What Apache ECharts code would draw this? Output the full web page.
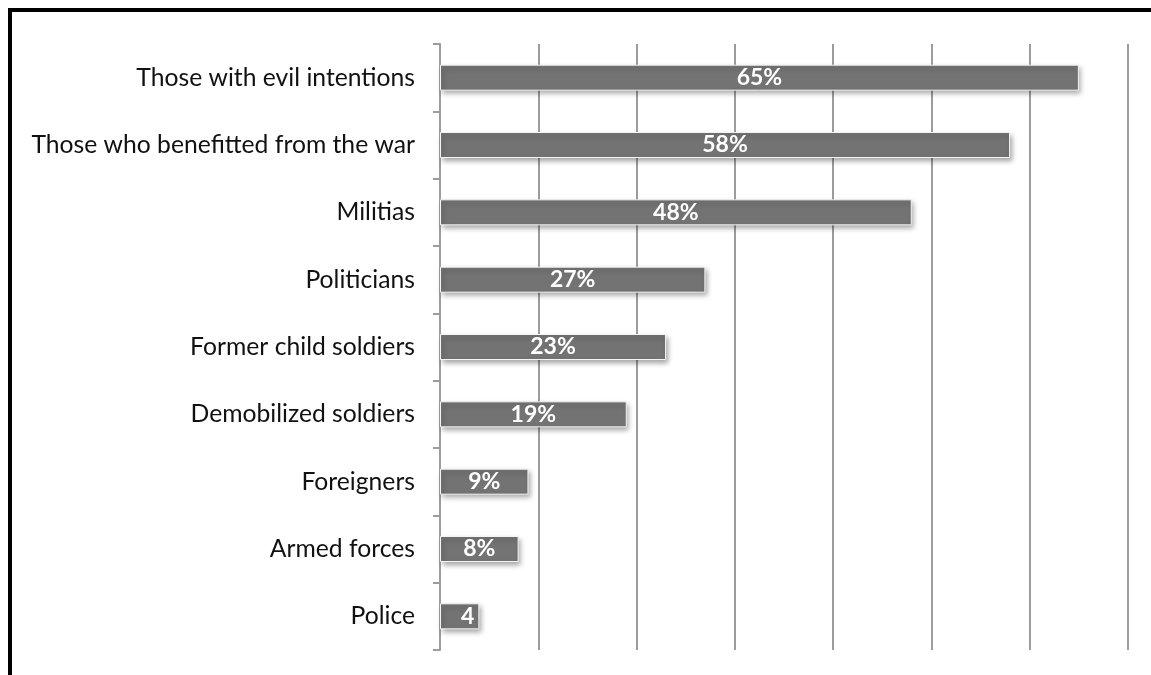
<!DOCTYPE html>
<html>
<head>
<meta charset="utf-8">
<script src="https://cdn.jsdelivr.net/npm/echarts@6/dist/echarts.min.js"></script>
<style>
  html, body { margin: 0; padding: 0; background: #fff; }
  #chart { width: 1151px; height: 675px; }
</style>
</head>
<body>
<div id="chart"></div>
<script>
// Who is seen as responsible (share of respondents, %)
const categories = [
  'Those with evil intentions',
  'Those who benefitted from the war',
  'Militias',
  'Politicians',
  'Former child soldiers',
  'Demobilized soldiers',
  'Foreigners',
  'Armed forces',
  'Police'
];
const values = [65, 58, 48, 27, 23, 19, 9, 8, 4];
const axisMax = 70;
const axisStep = 10;

const chart = echarts.init(document.getElementById('chart'), null, { renderer: 'canvas' });

const barData = values.map(function (v) {
  const item = { value: v };
  if (v < 5) {
    // the narrow bar cannot hold its label; show what fits
    item.label = {
      position: 'insideLeft',
      offset: [16, 0],
      width: 18,
      overflow: 'truncate',
      ellipsis: ''
    };
  }
  return item;
});

chart.setOption({
  animation: false,
  backgroundColor: '#ffffff',
  graphic: [{
    type: 'rect',
    shape: { x: 10, y: 10, width: 1300, height: 800 },
    style: { fill: 'none', stroke: '#000', lineWidth: 4 },
    silent: true
  }],
  grid: { left: 440, right: 23, top: 44, bottom: 25, containLabel: false },
  xAxis: {
    type: 'value',
    min: 0,
    max: axisMax,
    interval: axisStep,
    axisLabel: { show: false },
    axisTick: { show: false },
    axisLine: { show: false },
    splitLine: { show: true, lineStyle: { color: '#9c9c9c', width: 2 } }
  },
  yAxis: {
    type: 'category',
    data: categories,
    inverse: true,
    axisLine: { show: true, lineStyle: { color: '#9c9c9c', width: 2 } },
    axisTick: { show: true, length: 7, lineStyle: { color: '#9c9c9c', width: 2 } },
    axisLabel: {
      margin: 25,
      color: '#111',
      fontFamily: 'Lato',
      fontSize: 24.7
    }
  },
  series: [{
    type: 'bar',
    data: barData,
    barWidth: 26,
    itemStyle: {
      color: '#737373',
      borderColor: '#f4f4f4',
      borderWidth: 1,
      shadowColor: 'rgba(0,0,0,0.35)',
      shadowBlur: 5,
      shadowOffsetX: 2,
      shadowOffsetY: 3
    },
    label: {
      show: true,
      position: 'inside',
      color: '#fff',
      fontFamily: 'Lato',
      fontWeight: 'bold',
      fontSize: 23,
      formatter: '{c}%'
    }
  }]
});
</script>
</body>
</html>
